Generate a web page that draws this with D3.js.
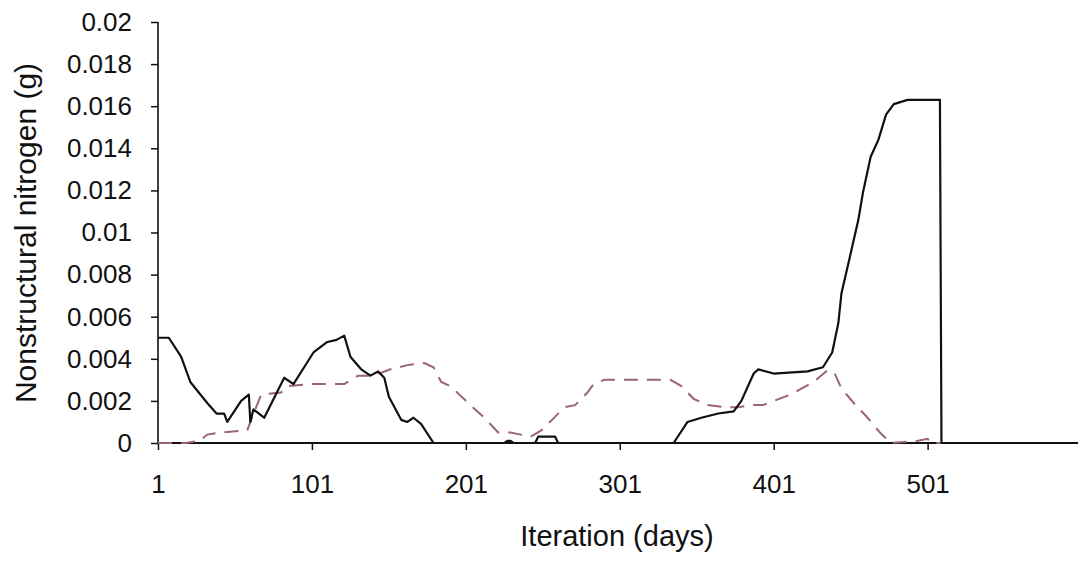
<!DOCTYPE html>
<html>
<head>
<meta charset="utf-8">
<script src="https://cdn.jsdelivr.net/npm/d3@7"></script>
<style>
  html, body { margin: 0; padding: 0; background: #fff; }
  svg { display: block; }
  text { font-family: "Liberation Sans", Arial, Helvetica, sans-serif; fill: #111; }
</style>
</head>
<body>
<svg id="chart" width="1078" height="561"></svg>
<script>
// ---- data ----
const xTickLabels = [1, 101, 201, 301, 401, 501];
const yTickLabels = [0, 0.002, 0.004, 0.006, 0.008, 0.01, 0.012, 0.014, 0.016, 0.018, 0.02];

// solid black series: [day, value]
const solidDays = [1, 8, 16, 22, 33, 39, 44, 46, 55, 60, 61, 63, 70, 83, 89, 102, 111, 117, 122, 126, 133, 139, 144, 148, 151, 159, 163, 167, 172, 180,
  226, 228, 230, 232, 246, 248, 250, 257, 259, 261, 336, 345, 354, 365, 375, 380, 388, 391, 401, 423, 433, 439, 443, 445, 451, 456, 459, 464, 469, 474, 479, 488, 509, 510, 600];
const solidValues = [0.005, 0.005, 0.0041, 0.0029, 0.0019, 0.0014, 0.0014, 0.001, 0.002, 0.0023, 0.001, 0.0016, 0.0012, 0.0031, 0.0028, 0.0043, 0.0048, 0.0049, 0.0051, 0.0041, 0.0035, 0.0032, 0.0034, 0.0031, 0.0022, 0.0011, 0.001, 0.0012, 0.0009, 0,
  0, 0.0001, 0.0001, 0, 0, 0.0003, 0.0003, 0.0003, 0.0003, 0, 0, 0.001, 0.0012, 0.0014, 0.0015, 0.002, 0.0033, 0.0035, 0.0033, 0.0034, 0.0036, 0.0043, 0.0057, 0.0071, 0.009, 0.0106, 0.0119, 0.0136, 0.0144, 0.0156, 0.0161, 0.0163, 0.0163, 0, 0];

// dashed series: [day, value]
const dashedDays = [1, 19, 28, 33, 42, 59, 61, 68, 81, 85, 100, 122, 131, 141, 152, 163, 174, 180, 185, 191, 204, 213, 222, 230, 243, 250, 257, 265, 272, 280, 284, 291, 334, 341, 349, 358, 369, 378, 386, 394, 401, 412, 427, 435, 440, 445, 453, 462, 470, 477, 494, 501, 503, 600];
const dashedValues = [0, 0, 0.0001, 0.0004, 0.0005, 0.0006, 0.001, 0.0023, 0.0024, 0.0027, 0.0028, 0.0028, 0.0032, 0.0032, 0.0035, 0.0037, 0.0038, 0.0036, 0.0029, 0.0027, 0.0018, 0.0012, 0.0005, 0.0005, 0.0003, 0.0006, 0.0011, 0.0017, 0.0018, 0.0024, 0.0028, 0.003, 0.003, 0.0027, 0.0021, 0.0018, 0.0017, 0.0017, 0.0018, 0.0018, 0.002, 0.0023, 0.0029, 0.0034, 0.0034, 0.0026, 0.0019, 0.0012, 0.0005, 0, 0.0001, 0.0002, 0, 0];

// ---- drawing ----
const svg = d3.select("#chart");
const x = d3.scaleLinear().domain([1, 600]).range([158, 1080]);
const y = d3.scaleLinear().domain([0, 0.02]).range([443, 22]);

const line = d3.line().x(d => x(d[0])).y(d => y(d[1]));
const solid = solidDays.map((d, i) => [d, solidValues[i]]);
const dashed = dashedDays.map((d, i) => [d, dashedValues[i]]);

// axes
const yAxis = d3.axisLeft(y).tickValues(yTickLabels).tickSize(7).tickPadding(19)
  .tickFormat(d => d === 0 ? "0" : String(+d.toFixed(3)));
const gy = svg.append("g").attr("transform", `translate(${x(1)},0)`).call(yAxis);
gy.select(".domain").attr("stroke", "#111").attr("stroke-width", 1.6).attr("d", `M0,${y(0.02)}V${y(0)}`);
gy.selectAll(".tick line").attr("stroke", "#111").attr("stroke-width", 1.5);
gy.selectAll(".tick text").style("font-size", "26px").attr("fill", "#111");

const xAxis = d3.axisBottom(x).tickValues(xTickLabels).tickSize(7).tickPadding(25).tickFormat(d3.format("d"));
const gx = svg.append("g").attr("transform", `translate(0,${y(0)})`).call(xAxis);
gx.select(".domain").attr("stroke", "#111").attr("stroke-width", 1.8).attr("d", `M${x(1)},0H1078`);
gx.selectAll(".tick line").attr("stroke", "#111").attr("stroke-width", 1.5);
gx.selectAll(".tick text").style("font-size", "26px").attr("fill", "#111");

// series
svg.append("path").datum(dashed).attr("d", line)
  .attr("fill", "none").attr("stroke", "#9a6472").attr("stroke-width", 2)
  .attr("stroke-dasharray", "14,9");
svg.append("path").datum(solid).attr("d", line)
  .attr("fill", "none").attr("stroke", "#111").attr("stroke-width", 2.2)
  .attr("stroke-linejoin", "round");

// axis titles
svg.append("text").attr("x", 617).attr("y", 546).attr("text-anchor", "middle")
  .style("font-size", "29px").text("Iteration (days)");
svg.append("text").attr("transform", "translate(36,233) rotate(-90)").attr("text-anchor", "middle")
  .style("font-size", "30px").text("Nonstructural nitrogen (g)");
</script>
</body>
</html>
